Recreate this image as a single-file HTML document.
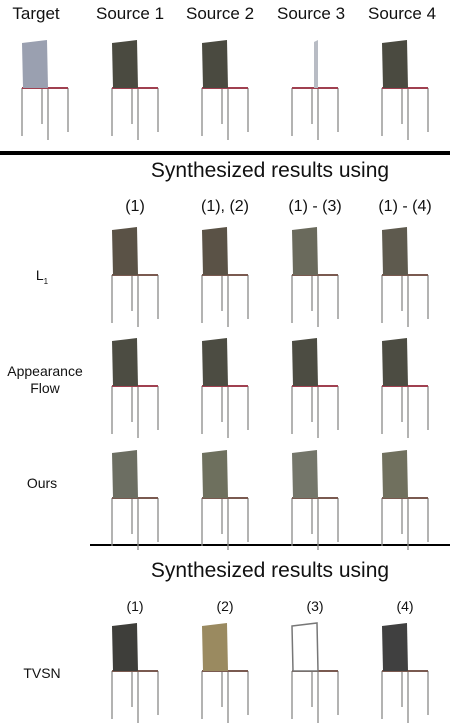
<!DOCTYPE html>
<html><head><meta charset="utf-8"><style>
html,body{margin:0;padding:0;background:#fff;width:450px;height:727px;overflow:hidden;position:relative;font-family:"Liberation Sans",sans-serif;color:#111}
.t{position:absolute;white-space:nowrap;transform:translateX(-50%);font-weight:300}
svg{position:absolute;left:0;top:0}
</style></head><body>
<div class="t" style="left:36px;top:4px;font-size:17px">Target</div>
<div class="t" style="left:130px;top:4px;font-size:17px">Source 1</div>
<div class="t" style="left:220px;top:4px;font-size:17px">Source 2</div>
<div class="t" style="left:311px;top:4px;font-size:17px">Source 3</div>
<div class="t" style="left:402px;top:4px;font-size:17px">Source 4</div>
<div style="position:absolute;left:0;top:151px;width:450px;height:4px;background:#000"></div>
<div class="t" style="left:270px;top:159px;font-size:21px">Synthesized results using</div>
<div class="t" style="left:135px;top:198px;font-size:16px">(1)</div>
<div class="t" style="left:225px;top:198px;font-size:16px">(1), (2)</div>
<div class="t" style="left:315px;top:198px;font-size:16px">(1) - (3)</div>
<div class="t" style="left:405px;top:198px;font-size:16px">(1) - (4)</div>
<div class="t" style="left:42px;top:267px;font-size:14px">L<sub style="font-size:8px">1</sub></div>
<div class="t" style="left:45px;top:363px;font-size:14px;text-align:center;line-height:17px">Appearance<br>Flow</div>
<div class="t" style="left:42px;top:475px;font-size:14px">Ours</div>
<div style="position:absolute;left:90px;top:544px;width:360px;height:2px;background:#000"></div>
<div class="t" style="left:270px;top:559px;font-size:21px">Synthesized results using</div>
<div class="t" style="left:135px;top:598px;font-size:14px">(1)</div>
<div class="t" style="left:225px;top:598px;font-size:14px">(2)</div>
<div class="t" style="left:315px;top:598px;font-size:14px">(3)</div>
<div class="t" style="left:405px;top:598px;font-size:14px">(4)</div>
<div class="t" style="left:42px;top:665px;font-size:14px">TVSN</div>
<svg id="s" width="450" height="727"></svg>
<script>
const chairXs=[20,110,200,290,380];
const chairYs=[40,227,338,450,623];
const chairFills=[
 ['#9aa0b0','#4a4a40','#4a4a40','#c8ccd0','#4a4a40'],
 [null,'#5a5246','#5a5246','#6a6a5c','#5e5a4e'],
 [null,'#4c4c42','#4c4c42','#4c4c42','#4c4c42'],
 [null,'#6c6e62','#6e705e','#74766a','#70705e'],
 [null,'#3e3e3a','#9a8a60','#ffffff','#404040']];
const NS='http://www.w3.org/2000/svg';
const svg=document.getElementById('s');
function el(t,a){const e=document.createElementNS(NS,t);for(const k in a)e.setAttribute(k,a[k]);svg.appendChild(e);return e;}
chairYs.forEach((y,r)=>chairXs.forEach((x,c)=>{
 const f=chairFills[r][c]; if(!f)return;
 const leg='#8a8a88';
 [[2,48,2,96],[28,48,28,100],[48,48,48,92],[22,48,22,84]].forEach(l=>{
  const ln=el('line',{x1:x+l[0],y1:y+l[1],x2:x+l[2],y2:y+l[3],stroke:leg,'stroke-width':1.3});
  
  
 });
 const seat=el('line',{x1:x+2,y1:y+48,x2:x+48,y2:y+48,stroke:r==0||r==2?'#a04050':'#7a5a50','stroke-width':2});
 
 
 const slim=(r==0&&c==3);
 const pts=slim?`${x+24},${y+2} ${x+28},${y} ${x+28},${y+48} ${x+24},${y+48}`:`${x+2},${y+3} ${x+27},${y} ${x+28},${y+48} ${x+3},${y+48}`;
 const back=el('polygon',{points:pts,fill:slim?'#b8bcc4':f,stroke:r==4&&c==3?'#777':'none','stroke-width':1.5});
 
 
}));
</script>
</body></html>
